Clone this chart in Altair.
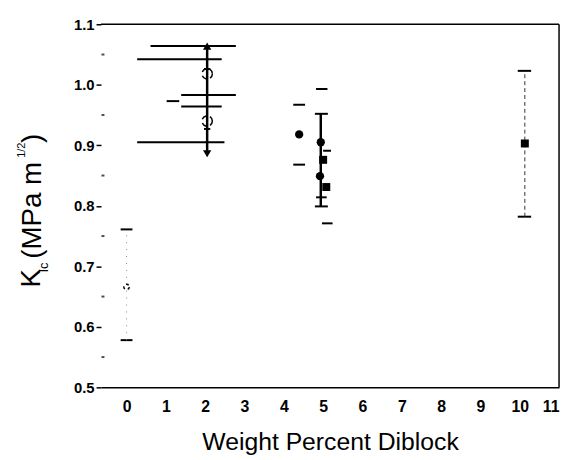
import altair as alt
import pandas as pd

# ---- data ----
# filled circles
circ_x = [4.39, 4.94, 4.92]
circ_y = [0.918, 0.905, 0.849]
# filled squares
sq_x = [5.00, 5.08, 10.13]
sq_y = [0.876, 0.831, 0.903]
# open (dashed) circles
open_x = [2.05, 2.05]
open_y = [1.018, 0.940]
# small open mark at zero
zero_x = [0.0]
zero_y = [0.666]
# arrow heads
up_x = [2.05]
up_y = [1.064]
down_x = [2.05]
down_y = [0.886]
# solid vertical error bars
bar_x = [2.05, 4.94]
bar_lo = [0.886, 0.799]
bar_hi = [1.064, 0.952]
# dashed vertical error bar
dbar_x = [10.13]
dbar_lo = [0.782]
dbar_hi = [1.023]
# faint dotted vertical error bar
fbar_x = [0.0]
fbar_lo = [0.578]
fbar_hi = [0.761]
# horizontal segments (caps and long lines)
seg_x1 = [-0.15, -0.15, 4.24, 4.24, 4.79, 4.79, 4.82, 4.97, 5.00, 4.82,
          9.95, 9.95, 0.61, 0.27, 1.39, 1.02, 1.39, 0.27, 1.97, 1.97]
seg_x2 = [0.15, 0.15, 4.54, 4.54, 5.12, 5.12, 5.11, 5.24, 5.20, 5.09,
          10.29, 10.29, 2.78, 2.42, 2.78, 1.34, 2.42, 2.49, 2.13, 2.13]
seg_y = [0.761, 0.578, 0.967, 0.868, 0.952, 0.799, 0.993, 0.771, 0.891, 0.814,
         1.023, 0.782, 1.064, 1.042, 0.983, 0.973, 0.964, 0.905, 1.026, 0.927]
# minor ticks on the left edge
minor_y = [0.55, 0.65, 0.75, 0.85, 0.95, 1.05]
x_ticks = list(range(0, 12))
y_ticks = [0.5, 0.6, 0.7, 0.8, 0.9, 1.0, 1.1]

X_DOMAIN = [-0.65, 11]
Y_DOMAIN = [0.5, 1.1]
FONT = "Liberation Sans"

xs = alt.Scale(domain=X_DOMAIN, nice=False, zero=False)
ys = alt.Scale(domain=Y_DOMAIN, nice=False, zero=False)

def df(**kw):
    return pd.DataFrame(kw)

xenc = alt.X("x:Q", scale=xs,
             axis=alt.Axis(values=x_ticks, title="Weight Percent Diblock",
                           ticks=False, labelPadding=11, labelFontSize=16,
                           labelFontWeight="bold", labelFont=FONT,
                           titleFont=FONT, titleFontSize=25,
                           titleFontWeight="normal", titlePadding=16,
                           titleColor="black", labelColor="black",
                           domainColor="black", domainWidth=1.5, grid=False))
yenc = alt.Y("y:Q", scale=ys,
             axis=alt.Axis(values=y_ticks, format=".1f", title=None,
                           tickSize=5, tickColor="black", tickWidth=1.5,
                           labelPadding=2, labelFontSize=15,
                           labelFontWeight="bold", labelFont=FONT,
                           labelColor="black", domain=False, grid=False))

segs = alt.Chart(df(x=seg_x1, x2=seg_x2, y=seg_y)).mark_rule(
    color="black", strokeWidth=2).encode(x=xenc, x2="x2:Q", y=yenc)

bars = alt.Chart(df(x=bar_x, y=bar_lo, y2=bar_hi)).mark_rule(
    color="black", strokeWidth=2.5).encode(x="x:Q", y="y:Q", y2="y2:Q")

dbars = alt.Chart(df(x=dbar_x, y=dbar_lo, y2=dbar_hi)).mark_rule(
    color="#333", strokeWidth=1, strokeDash=[4, 3]).encode(
    x="x:Q", y="y:Q", y2="y2:Q")

fbars = alt.Chart(df(x=fbar_x, y=fbar_lo, y2=fbar_hi)).mark_rule(
    color="#888", strokeWidth=1, strokeDash=[1, 6]).encode(
    x="x:Q", y="y:Q", y2="y2:Q")

circles = alt.Chart(df(x=circ_x, y=circ_y)).mark_point(
    shape="circle", filled=True, color="black", size=70, opacity=1).encode(
    x="x:Q", y="y:Q")

squares = alt.Chart(df(x=sq_x, y=sq_y)).mark_point(
    shape="square", filled=True, color="black", size=65, opacity=1).encode(
    x="x:Q", y="y:Q")

opens = alt.Chart(df(x=open_x, y=open_y)).mark_point(
    shape="circle", filled=False, color="black", size=110, strokeWidth=1.5,
    strokeDash=[5, 4], opacity=1).encode(x="x:Q", y="y:Q")

zeros = alt.Chart(df(x=zero_x, y=zero_y)).mark_point(
    shape="circle", filled=False, color="black", size=30, strokeWidth=1.5,
    strokeDash=[3, 3], opacity=1).encode(x="x:Q", y="y:Q")

ups = alt.Chart(df(x=up_x, y=up_y)).mark_point(
    shape="triangle-up", filled=True, color="black", size=70, opacity=1).encode(
    x="x:Q", y="y:Q")

downs = alt.Chart(df(x=down_x, y=down_y)).mark_point(
    shape="triangle-down", filled=True, color="black", size=70, opacity=1).encode(
    x="x:Q", y="y:Q")

minors = alt.Chart(df(y=minor_y)).mark_tick(
    orient="horizontal", color="black", size=3, thickness=2).encode(
    x=alt.datum(X_DOMAIN[0] + 0.05), y="y:Q")

top_line = alt.Chart(df(x=[X_DOMAIN[0]], x2=[X_DOMAIN[1]], y=[Y_DOMAIN[1]])).mark_rule(
    color="black", strokeWidth=1.5).encode(x="x:Q", x2="x2:Q", y="y:Q")
right_line = alt.Chart(df(x=[X_DOMAIN[1]], y=[Y_DOMAIN[0]], y2=[Y_DOMAIN[1]])).mark_rule(
    color="black", strokeWidth=1.5).encode(x="x:Q", y="y:Q", y2="y2:Q")

# y-axis title with subscript and superscript pieces
def ytext(txt, px, py, size):
    return alt.Chart(df(t=[txt])).mark_text(
        angle=270, align="left", baseline="alphabetic", font=FONT,
        fontSize=size, color="black").encode(
        text="t:N", x=alt.value(px), y=alt.value(py))

ytitle = (ytext("K", -62, 266, 28) + ytext("Ic", -54, 251, 13)
          + ytext("(MPa m", -61, 237, 28) + ytext("1/2", -77, 135, 11)
          + ytext(")", -61, 120, 28))

chart = alt.layer(
    segs, bars, dbars, fbars, top_line, right_line, minors,
    opens, zeros, circles, squares, ups, downs, ytitle
).properties(
    width=463, height=367,
    autosize=alt.AutoSizeParams(type="none"),
    padding={"left": 94, "top": 14, "right": 4, "bottom": 70},
    background="white",
).configure_view(stroke=None)

chart.save("out.html", embed_options={"renderer": "svg", "actions": False})
